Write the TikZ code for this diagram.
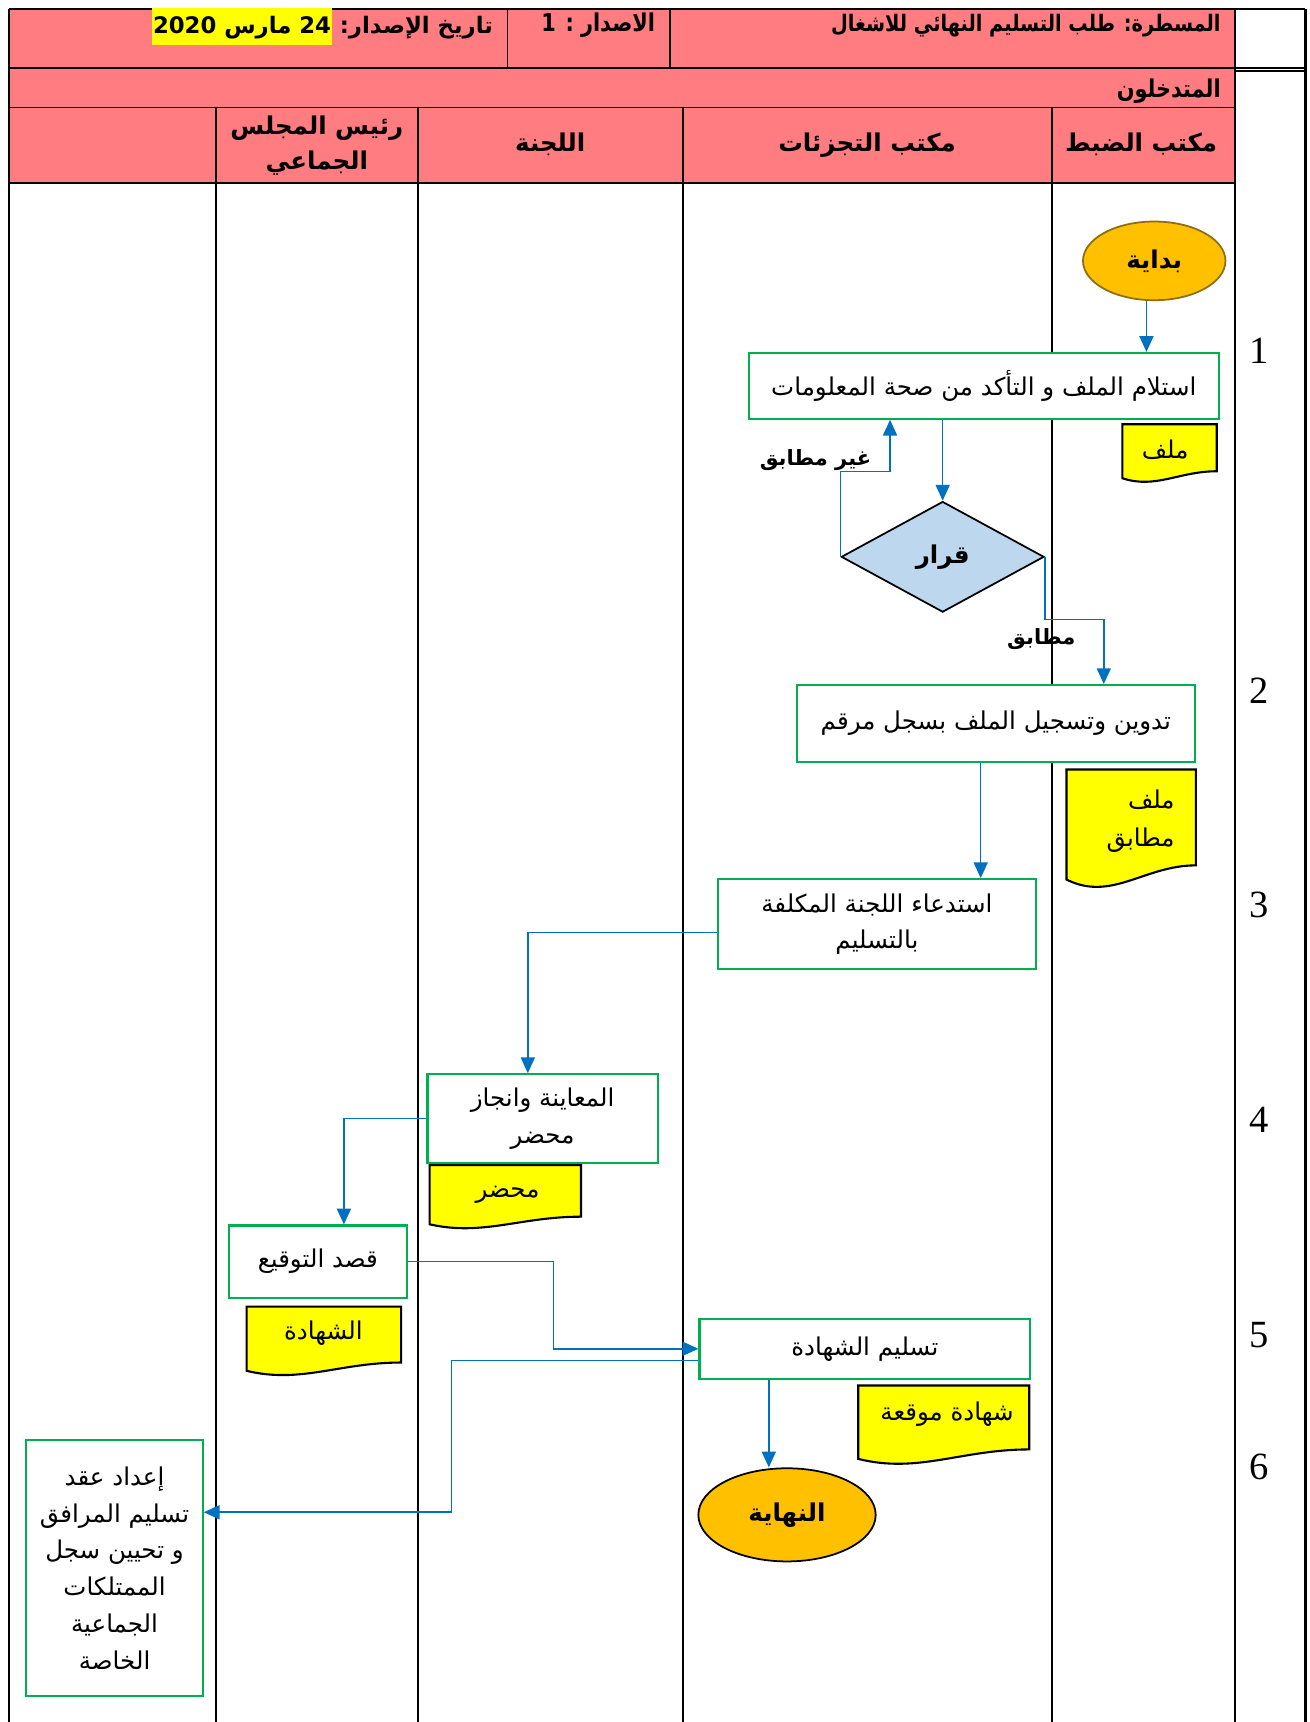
\documentclass[tikz,border=0pt]{standalone}
\usepackage{fontspec}
\usepackage{tikz}
\usetikzlibrary{shapes.geometric,arrows.meta}
\TeXXeTstate=1
\newfontfamily\arabicfont[Script=Arabic]{DejaVu Sans}
\newfontfamily\arabicnarrow[Script=Arabic,FakeStretch=0.85]{DejaVu Sans}
\newfontfamily\numfont{Liberation Serif}
\definecolor{headpink}{RGB}{255,124,128}
\definecolor{procgreen}{RGB}{0,176,80}
\definecolor{flowblue}{RGB}{0,112,192}
\definecolor{startfill}{RGB}{255,192,0}
\definecolor{startdraw}{RGB}{140,110,20}
\definecolor{decfill}{RGB}{189,215,238}
\definecolor{docyellow}{RGB}{255,255,0}
\setlength{\fboxsep}{0.5pt}

\begin{document}
\begin{tikzpicture}[x=0.022cm, y=-0.022cm, line width=1pt,
  head/.style={font=\arabicfont\bfseries\fontsize{14}{20}\selectfont, inner sep=1pt},
  headnarrow/.style={font=\arabicnarrow\bfseries\fontsize{14}{20}\selectfont, inner sep=1pt},
  proc/.style={draw=procgreen, line width=1.2pt, fill=white, align=center,
    font=\arabicfont\fontsize{14}{21}\selectfont, inner sep=2pt},
  term/.style={ellipse, draw=black, fill=startfill, line width=1pt,
    font=\arabicfont\bfseries\fontsize{14}{20}\selectfont, inner sep=0pt},
  doctext/.style={font=\arabicfont\fontsize{14}{22}\selectfont, inner sep=1pt},
  flow/.style={flowblue, line width=0.9pt, -{Triangle[length=9pt,width=8pt]}},
  lbl/.style={font=\arabicfont\bfseries\fontsize{12}{16}\selectfont, inner sep=1pt},
  num/.style={font=\numfont\fontsize{22}{22}\selectfont}]
\useasboundingbox (0,0) rectangle (1195,1571);

% header
\fill[headpink] (8,8) rectangle (1127,167);
\draw (8,8) -- (1191,8);
\draw (8,62) -- (1191,62);
\draw (8,98) -- (1127,98);
\draw (8,167) -- (1127,167);
\draw (1127,65) -- (1191,65);
\draw (8,8) -- (8,1571);
\draw (1127,8) -- (1127,1571);
\draw[line width=1.8pt] (1191,8) -- (1191,1571);
\draw (463,8) -- (463,62);
\draw (611,8) -- (611,62);
\draw (197,98) -- (197,1571);
\draw (381,98) -- (381,1571);
\draw (623,98) -- (623,1571);
\draw (960,98) -- (960,1571);

\node[headnarrow, anchor=east, font=\arabicnarrow\bfseries\fontsize{13}{20}\selectfont] (title) at (1116,23) {\beginR المسطرة: طلب التسليم النهائي للاشغال\endR};
\node[headnarrow, anchor=east] (version) at (600,23) {\beginR الاصدار : 1\endR};
\node[head, anchor=east, font=\arabicfont\bfseries\fontsize{13}{20}\selectfont] (date) at (452,24) {\colorbox{docyellow}{\rule[-6pt]{0pt}{20pt}\beginR 24 مارس 2020\endR}\ \beginR تاريخ الإصدار:\endR};
\node[headnarrow, anchor=east] (actors) at (1116,83) {\beginR المتدخلون\endR};
\node[head] (lane1) at (1041,132) {\beginR مكتب الضبط\endR};
\node[head] (lane2) at (791,132) {\beginR مكتب التجزئات\endR};
\node[head] (lane3) at (502,132) {\beginR اللجنة\endR};
\node[head, align=center] (lane4) at (289,133) {\beginR رئيس المجلس\endR\\\beginR الجماعي\endR};

% step numbers
\node[num] (n1) at (1149,320) {1};
\node[num] (n2) at (1149,630) {2};
\node[num] (n3) at (1149,826) {3};
\node[num] (n4) at (1149,1022) {4};
\node[num] (n5) at (1149,1218) {5};
\node[num] (n6) at (1149,1338) {6};

% documents
\foreach \xa/\xb/\yt/\yb in {1024/1110/387/440, 973/1091/702/810, 392/530/1063/1121, 225/366/1192/1255, 783/939/1264/1336}{
  \pgfmathsetmacro\hh{\yb-\yt}
  \pgfmathsetmacro\ww{\xb-\xa}
  \draw[fill=docyellow, line width=1.2pt] (\xa,\yt) -- (\xb,\yt) -- (\xb,\yb-0.19*\hh)
    .. controls (\xb-0.4*\ww,\yb-0.19*\hh) and (\xa+0.35*\ww,\yb+0.12*\hh) .. (\xa,\yb-0.07*\hh) -- cycle;
}
\node[doctext] (doc1) at (1063,410) {\beginR ملف\endR};
\node[doctext, align=right, anchor=east] (doc2) at (1074,749) {\beginR ملف\endR\\\beginR مطابق\endR};
\node[doctext] (doc3) at (463,1090) {\beginR محضر\endR};
\node[doctext] (doc4) at (295,1216) {\beginR الشهادة\endR};
\node[doctext] (doc5) at (864,1290) {\beginR شهادة موقعة\endR};

% steps
\node[term, draw=startdraw, minimum width=2.86cm, minimum height=1.58cm] (start) at (1053,238) {\beginR بداية\endR};
\node[proc, minimum width=9.44cm, minimum height=1.32cm] (receive) at (897.5,352) {\beginR استلام الملف و التأكد من صحة المعلومات\endR};
\node[diamond, draw=black, fill=decfill, line width=1pt, inner sep=0pt,
  minimum width=4.07cm, minimum height=2.22cm,
  font=\arabicfont\bfseries\fontsize{14}{20}\selectfont] (decide) at (860,508) {\beginR قرار\endR};
\node[proc, minimum width=7.99cm, minimum height=1.54cm] (record) at (908.5,660) {\beginR تدوين وتسجيل الملف بسجل مرقم\endR};
\node[proc, minimum width=6.38cm, minimum height=1.80cm] (invite) at (800,843) {\beginR استدعاء اللجنة المكلفة\endR\\\beginR بالتسليم\endR};
\node[proc, minimum width=4.62cm, minimum height=1.78cm] (inspect) at (495,1020.5) {\beginR المعاينة وانجاز\endR\\\beginR محضر\endR};
\node[proc, minimum width=3.56cm, minimum height=1.45cm] (sign) at (290,1151) {\beginR قصد التوقيع\endR};
\node[proc, minimum width=6.64cm, minimum height=1.21cm] (deliver) at (789,1230.5) {\beginR تسليم الشهادة\endR};
\node[term, minimum width=3.56cm, minimum height=1.87cm] (end) at (718,1382) {\beginR النهاية\endR};
\node[proc, minimum width=3.54cm, minimum height=5.13cm] (contract) at (104.5,1430.5) {\beginR إعداد عقد\endR\\\beginR تسليم المرافق\endR\\\beginR و تحيين سجل\endR\\\beginR الممتلكات\endR\\\beginR الجماعية\endR\\\beginR الخاصة\endR};

% connectors
\coordinate (nok) at (812,430);
\coordinate (ok) at (1007,565);
\coordinate (m56) at (505,1190);
\coordinate (m67) at (412,1300);
\draw[flow] (start.-101) -- (start.-101 |- receive.north);
\draw[flow] (decide |- receive.south) -- (decide.north);
\draw[flow] (decide.west) |- (nok) -- (nok |- receive.south);
\draw[flow] (decide.east) |- (ok) -- (ok |- record.north);
\draw[flow] (record.-111) -- (record.-111 |- invite.north);
\draw[flow] (invite.-177) -| (inspect.108);
\draw[flow] (inspect.west) -| (sign.55);
\draw[flow] (sign.east) -| (m56) |- (deliver.west);
\draw[flow] (deliver.-176) -| (m67) |- (contract.32);
\draw[flow] (deliver.-162) -- (deliver.-162 |- end.north);

\node[lbl] (nokl) at (744,420) {\beginR غير مطابق\endR};
\node[lbl] (okl) at (950,583) {\beginR مطابق\endR};
\end{tikzpicture}
\end{document}
